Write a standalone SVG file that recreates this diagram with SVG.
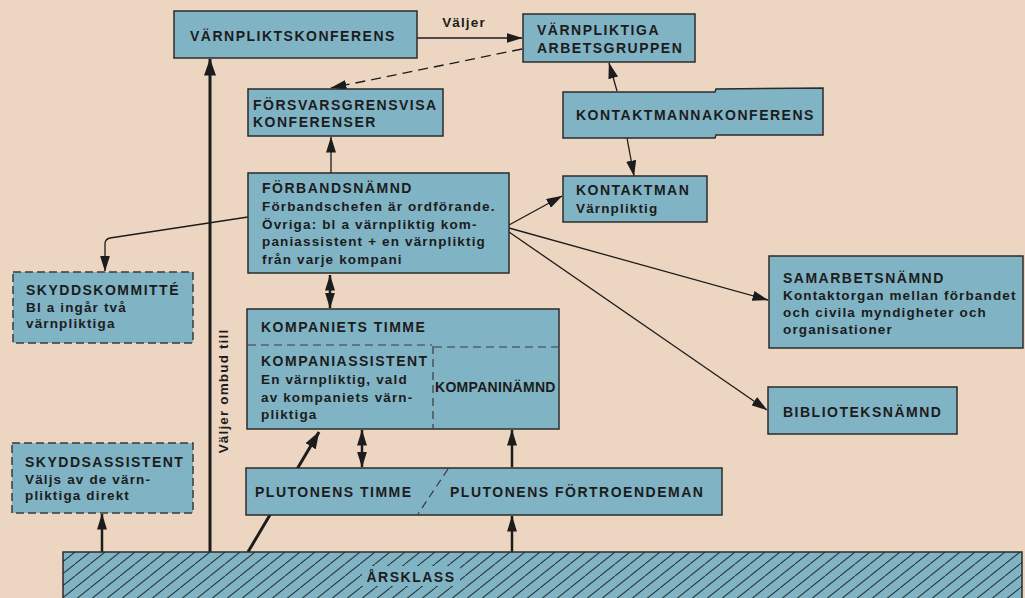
<svg xmlns="http://www.w3.org/2000/svg" width="1025" height="598" viewBox="0 0 1025 598">
<style>
.bg{fill:#ecd6c1}
.box{fill:#80b3c4;stroke:#2b2b2b;stroke-width:1.5}
.dbox{fill:#80b3c4;stroke:#3a3a3a;stroke-width:1.5;stroke-dasharray:8 4}
.t{font-family:"Liberation Sans",Arial,sans-serif;font-weight:bold;font-size:14px;letter-spacing:1.5px;fill:#1c1c1c}
.s{font-family:"Liberation Sans",Arial,sans-serif;font-weight:bold;font-size:13.5px;letter-spacing:1.15px;fill:#1c1c1c}
.c{fill:none;stroke:#1c1c1c;stroke-width:1.3}
.ck{fill:none;stroke:#1c1c1c;stroke-width:3}
.cm{fill:none;stroke:#1c1c1c;stroke-width:2.5}
.dash{fill:none;stroke:#3a3a3a;stroke-width:1.2;stroke-dasharray:8 5}
</style>
<defs>
<marker id="ah" markerUnits="userSpaceOnUse" viewBox="0 0 16 10" markerWidth="16" markerHeight="10" refX="15.5" refY="5" orient="auto-start-reverse"><path d="M0,0 L16,5 L0,10 z" fill="#1c1c1c"/></marker>
<marker id="ahb" markerUnits="userSpaceOnUse" viewBox="0 0 17 12" markerWidth="17" markerHeight="12" refX="16.5" refY="6" orient="auto-start-reverse"><path d="M0,0 L17,6 L0,12 z" fill="#1c1c1c"/></marker>
<pattern id="hatch" patternUnits="userSpaceOnUse" width="15" height="12"><path d="M-2,13.6 L17,-1.6" stroke="#2a373d" stroke-width="1.1"/></pattern>
</defs>
<rect class="bg" x="0" y="0" width="1025" height="598"/>

<g id="connectors">
<path class="c" d="M417,38 L522,38" marker-end="url(#ah)"/>
<text class="s" x="464" y="27" text-anchor="middle">Väljer</text>
<path class="c" d="M522,49 L331,88" stroke-dasharray="10 6" marker-end="url(#ah)"/>
<path class="c" d="M617,91 L609,63" marker-end="url(#ah)"/>
<path class="c" d="M627,138 L634,176" marker-end="url(#ah)"/>
<path class="c" d="M331,173 L331,137" marker-end="url(#ah)"/>
<path class="c" d="M509,225 L562,196" marker-end="url(#ah)"/>
<path class="c" d="M509,228 L768,300" marker-end="url(#ah)"/>
<path class="c" d="M509,232 L767,410" marker-end="url(#ah)"/>
<path class="c" d="M248,217 L110,238 Q105,239 105,244 L105,271" marker-end="url(#ah)"/>
<path class="cm" d="M330,275 L330,308" marker-start="url(#ah)" marker-end="url(#ah)"/>
<path class="ck" d="M210,552 L210,59" marker-end="url(#ahb)"/>
<text class="s" transform="translate(228,391) rotate(-90)" text-anchor="middle">Väljer ombud till</text>
<path class="ck" d="M248,552 L319,432" marker-end="url(#ahb)"/>
<path class="cm" d="M362,467 L362,430" marker-start="url(#ah)" marker-end="url(#ah)"/>
<path class="cm" d="M512,467 L512,430" marker-end="url(#ah)"/>
<path class="cm" d="M512,552 L512,516" marker-end="url(#ah)"/>
<path class="cm" d="M102,552 L102,514" marker-end="url(#ah)"/>
</g>

<g id="varnpliktskonferens">
<rect class="box" x="174" y="11" width="243" height="47"/>
<text class="t" x="190" y="41">VÄRNPLIKTSKONFERENS</text>
</g>

<g id="arbetsgruppen">
<rect class="box" x="523" y="14" width="172" height="48"/>
<text class="t" x="537" y="35">VÄRNPLIKTIGA</text>
<text class="t" x="537" y="53">ARBETSGRUPPEN</text>
</g>

<g id="forsvarsgrensvisa">
<rect class="box" x="248" y="89" width="195" height="47"/>
<text class="t" x="253" y="110">FÖRSVARSGRENSVISA</text>
<text class="t" x="253" y="127">KONFERENSER</text>
</g>

<g id="kontaktmannakonferens">
<path class="box" d="M563,92 L715,92 L716,89 L823,88 L823,135 L716,135 L715,138 L563,138 Z"/>
<text class="t" x="576" y="120">KONTAKTMANNAKONFERENS</text>
</g>

<g id="kontaktman">
<rect class="box" x="563" y="176" width="144" height="46"/>
<text class="t" x="576" y="195">KONTAKTMAN</text>
<text class="s" x="576" y="213">Värnpliktig</text>
</g>

<g id="forbandsnamnd">
<rect class="box" x="248" y="173" width="261" height="100"/>
<text class="t" x="262" y="193">FÖRBANDSNÄMND</text>
<text class="s" x="262" y="211">Förbandschefen är ordförande.</text>
<text class="s" x="262" y="228.5">Övriga: bl a värnpliktig kom-</text>
<text class="s" x="262" y="246">paniassistent + en värnpliktig</text>
<text class="s" x="262" y="264">från varje kompani</text>
</g>

<g id="skyddskommitte">
<rect class="dbox" x="13" y="272" width="180" height="71"/>
<text class="t" x="26" y="295">SKYDDSKOMMITTÉ</text>
<text class="s" x="26" y="311.5">Bl a ingår två</text>
<text class="s" x="26" y="328">värnpliktiga</text>
</g>

<g id="samarbetsnamnd">
<rect class="box" x="769" y="256" width="254" height="92"/>
<text class="t" x="783" y="283">SAMARBETSNÄMND</text>
<text class="s" x="783" y="300">Kontaktorgan mellan förbandet</text>
<text class="s" x="783" y="317">och civila myndigheter och</text>
<text class="s" x="783" y="334">organisationer</text>
</g>

<g id="biblioteksnamnd">
<rect class="box" x="768" y="387" width="189" height="47"/>
<text class="t" x="783" y="417">BIBLIOTEKSNÄMND</text>
</g>

<g id="kompaniets-timme">
<rect class="box" x="247" y="309" width="312" height="120"/>
<path class="dash" d="M248,345 L432,345 M434,347 L558,347 M433,346 L433,428"/>
<text class="t" x="261" y="332">KOMPANIETS TIMME</text>
<text class="t" x="261" y="366">KOMPANIASSISTENT</text>
<text class="s" x="261" y="384">En värnpliktig, vald</text>
<text class="s" x="261" y="401.5">av kompaniets värn-</text>
<text class="s" x="261" y="419">pliktiga</text>
<text class="t" x="435" y="392" style="letter-spacing:0.3px">KOMPANINÄMND</text>
</g>

<g id="plutonens">
<rect class="box" x="246" y="468" width="476" height="47"/>
<path class="dash" d="M448,469 L418,514"/>
<text class="t" x="255" y="497">PLUTONENS TIMME</text>
<text class="t" x="450" y="497">PLUTONENS FÖRTROENDEMAN</text>
</g>

<g id="skyddsassistent">
<rect class="dbox" x="12" y="443" width="181" height="70"/>
<text class="t" x="25" y="467">SKYDDSASSISTENT</text>
<text class="s" x="25" y="483.5">Väljs av de värn-</text>
<text class="s" x="25" y="500">pliktiga direkt</text>
</g>

<g id="arsklass">
<rect x="63" y="552" width="959" height="50" fill="#80b3c4"/>
<rect x="63" y="552" width="959" height="50" fill="url(#hatch)"/>
<rect x="63" y="552" width="959" height="50" fill="none" stroke="#2b2b2b" stroke-width="1.5"/>
<rect x="362" y="566" width="98" height="20" fill="#80b3c4"/>
<text class="t" x="411" y="582" text-anchor="middle">ÅRSKLASS</text>
</g>
</svg>
